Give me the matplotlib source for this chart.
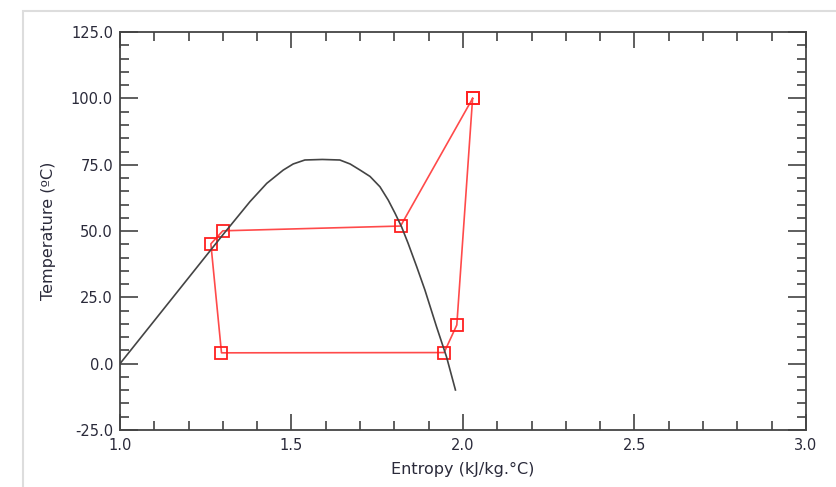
import matplotlib
matplotlib.use("Agg")
import matplotlib.pyplot as plt
from matplotlib.ticker import MultipleLocator, FormatStrFormatter
from matplotlib.patches import Rectangle

# saturation dome
dome_s = [1.0, 1.10, 1.20, 1.30, 1.379, 1.428, 1.476, 1.505, 1.539, 1.59,
          1.641, 1.671, 1.70, 1.729, 1.758, 1.782, 1.802, 1.821, 1.840,
          1.865, 1.889, 1.923, 1.952, 1.978]
dome_t = [0.0, 16.2, 32.4, 48.6, 61.1, 68.0, 73.0, 75.3, 76.8, 77.0,
          76.8, 75.3, 73.0, 70.6, 66.7, 61.7, 56.7, 51.6, 45.4,
          36.6, 27.8, 13.9, 2.6, -9.9]

# refrigeration cycle state points
cycle_s = [2.028, 1.818, 1.300, 1.265, 1.296, 1.945, 1.982, 2.028]
cycle_t = [100.0, 51.9, 50.1, 45.2, 4.1, 4.2, 14.6, 100.0]

fig = plt.figure(figsize=(8.36, 4.87), dpi=100)
ax = fig.add_axes([0.1435, 0.117, 0.8206, 0.817])

ax.plot(cycle_s, cycle_t, color='#ff4a4a', lw=1.2, zorder=2)
ax.plot(cycle_s, cycle_t, ls='none', marker='s', ms=9, mfc='none',
        mec='#ff2020', mew=1.3, zorder=3)
ax.plot(dome_s, dome_t, color='#444444', lw=1.2, zorder=4,
        solid_joinstyle='round')

ax.set_xlim(1.0, 3.0)
ax.set_ylim(-25, 125)
ax.xaxis.set_major_locator(MultipleLocator(0.5))
ax.xaxis.set_minor_locator(MultipleLocator(0.1))
ax.yaxis.set_major_locator(MultipleLocator(25))
ax.yaxis.set_minor_locator(MultipleLocator(5))
ax.xaxis.set_major_formatter(FormatStrFormatter('%.1f'))
ax.yaxis.set_major_formatter(FormatStrFormatter('%.1f'))

ax.tick_params(which='both', direction='in', top=True, right=True,
               color='#333333', width=1.1, labelsize=10.5, labelcolor='#2a2a3a')
ax.tick_params(axis='x', which='major', length=11.5, pad=6)
ax.tick_params(axis='y', which='major', length=13, pad=5)
ax.tick_params(which='minor', length=6.5)
for sp in ax.spines.values():
    sp.set_color('#444444')
    sp.set_linewidth(1.3)

ax.set_xlabel('Entropy (kJ/kg.°C)', fontsize=11.5, color='#2a2a3a', labelpad=6)
ax.set_ylabel('Temperature (ºC)', fontsize=11.5, color='#2a2a3a', labelpad=11)

# light frame around the chart
fig.patches.append(Rectangle((23 / 836, -0.1), 1.2, 1 - 11 / 487 + 0.1,
                             transform=fig.transFigure, fill=False,
                             edgecolor='#dddddd', lw=1.5))

fig.savefig('out.png', dpi=100)
